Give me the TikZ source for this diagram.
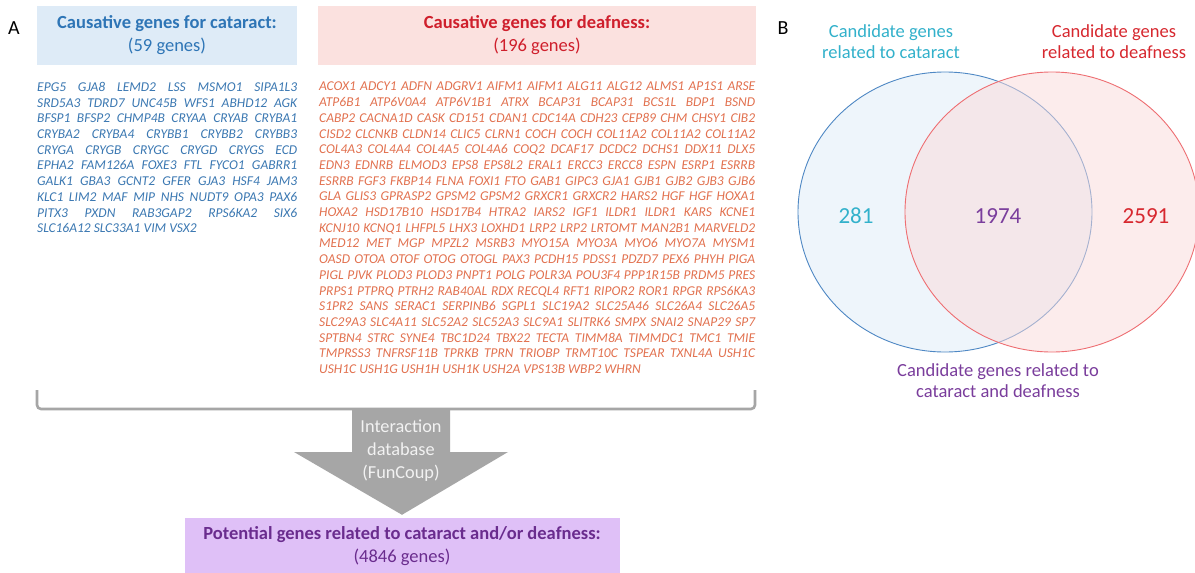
\documentclass[tikz,border=0pt]{standalone}
\usepackage{fontspec}
\setmainfont{Carlito}
\usetikzlibrary{shapes.geometric}

\definecolor{cathead}{HTML}{2E75B6}
\definecolor{catgene}{HTML}{3B78B2}
\definecolor{catfill}{HTML}{DEEBF7}
\definecolor{deafhead}{HTML}{CF1F2C}
\definecolor{deafgene}{HTML}{E2714F}
\definecolor{deaffill}{HTML}{FBE1DF}
\definecolor{boxgray}{HTML}{A6A6A6}
\definecolor{potfill}{HTML}{DFC0F7}
\definecolor{pottext}{HTML}{6A2C8E}
\definecolor{vcyan}{HTML}{32B1CB}
\definecolor{vred}{HTML}{D7282F}
\definecolor{vpurple}{HTML}{7A3D9C}
\definecolor{vblueedge}{HTML}{4F88C4}
\definecolor{vbluefill}{HTML}{EEF5FB}
\definecolor{vrededge}{HTML}{EE6E72}
\definecolor{vredfill}{HTML}{FBDADB}

\newcommand{\catline}[1]{\makebox[260pt][s]{#1}}
\newcommand{\deafline}[1]{\makebox[436pt][s]{#1}}

\begin{document}
\begin{tikzpicture}[x=1pt, y=-1pt,
    headbox/.style = {rectangle, inner sep=0pt, minimum height=59pt, align=center, font=\fontsize{18.5}{23}\selectfont},
    genes/.style = {inner sep=0pt, anchor=north west, align=left, font=\fontsize{13.5}{15.7}\selectfont\itshape},
    vennlabel/.style = {align=center, font=\fontsize{18.5}{21}\selectfont},
    vennnum/.style = {font=\fontsize{23}{27}\selectfont},
    panel/.style = {font=\fontsize{20}{24}\selectfont},
    set/.style = {ellipse, draw, line width=0.9pt, minimum width=294pt, minimum height=280pt, inner sep=0pt}
]
    \path [use as bounding box, fill=white] (0,0) rectangle (1195,573);

    % Panel A - headers
    \node [panel] (pa) at (14, 28) {A};
    \node [headbox, fill=catfill, minimum width=260pt] (cathead) at (167, 35) {\textcolor{cathead}{\textbf{Causative genes for cataract:}}\\\textcolor{cathead}{(59 genes)}};
    \node [headbox, fill=deaffill, minimum width=438pt] (deafhead) at (537, 35) {\textcolor{deafhead}{\textbf{Causative genes for deafness:}}\\\textcolor{deafhead}{(196 genes)}};

    % Gene lists
    \node [genes, text=catgene] (catlist) at (37, 82) {%
        \catline{EPG5 GJA8 LEMD2 LSS MSMO1 SIPA1L3}\\
        \catline{SRD5A3 TDRD7 UNC45B WFS1 ABHD12 AGK}\\
        \catline{BFSP1 BFSP2 CHMP4B CRYAA CRYAB CRYBA1}\\
        \catline{CRYBA2 CRYBA4 CRYBB1 CRYBB2 CRYBB3}\\
        \catline{CRYGA CRYGB CRYGC CRYGD CRYGS ECD}\\
        \catline{EPHA2 FAM126A FOXE3 FTL FYCO1 GABRR1}\\
        \catline{GALK1 GBA3 GCNT2 GFER GJA3 HSF4 JAM3}\\
        \catline{KLC1 LIM2 MAF MIP NHS NUDT9 OPA3 PAX6}\\
        \catline{PITX3 PXDN RAB3GAP2 RPS6KA2 SIX6}\\
        SLC16A12 SLC33A1 VIM VSX2};
    \node [genes, text=deafgene] (deaflist) at (319, 82) {%
        \deafline{ACOX1 ADCY1 ADFN ADGRV1 AIFM1 AIFM1 ALG11 ALG12 ALMS1 AP1S1 ARSE}\\
        \deafline{ATP6B1 ATP6V0A4 ATP6V1B1 ATRX BCAP31 BCAP31 BCS1L BDP1 BSND}\\
        \deafline{CABP2 CACNA1D CASK CD151 CDAN1 CDC14A CDH23 CEP89 CHM CHSY1 CIB2}\\
        \deafline{CISD2 CLCNKB CLDN14 CLIC5 CLRN1 COCH COCH COL11A2 COL11A2 COL11A2}\\
        \deafline{COL4A3 COL4A4 COL4A5 COL4A6 COQ2 DCAF17 DCDC2 DCHS1 DDX11 DLX5}\\
        \deafline{EDN3 EDNRB ELMOD3 EPS8 EPS8L2 ERAL1 ERCC3 ERCC8 ESPN ESRP1 ESRRB}\\
        \deafline{ESRRB FGF3 FKBP14 FLNA FOXI1 FTO GAB1 GIPC3 GJA1 GJB1 GJB2 GJB3 GJB6}\\
        \deafline{GLA GLIS3 GPRASP2 GPSM2 GPSM2 GRXCR1 GRXCR2 HARS2 HGF HGF HOXA1}\\
        \deafline{HOXA2 HSD17B10 HSD17B4 HTRA2 IARS2 IGF1 ILDR1 ILDR1 KARS KCNE1}\\
        \deafline{KCNJ10 KCNQ1 LHFPL5 LHX3 LOXHD1 LRP2 LRP2 LRTOMT MAN2B1 MARVELD2}\\
        \deafline{MED12 MET MGP MPZL2 MSRB3 MYO15A MYO3A MYO6 MYO7A MYSM1}\\
        \deafline{OASD OTOA OTOF OTOG OTOGL PAX3 PCDH15 PDSS1 PDZD7 PEX6 PHYH PIGA}\\
        \deafline{PIGL PJVK PLOD3 PLOD3 PNPT1 POLG POLR3A POU3F4 PPP1R15B PRDM5 PRES}\\
        \deafline{PRPS1 PTPRQ PTRH2 RAB40AL RDX RECQL4 RFT1 RIPOR2 ROR1 RPGR RPS6KA3}\\
        \deafline{S1PR2 SANS SERAC1 SERPINB6 SGPL1 SLC19A2 SLC25A46 SLC26A4 SLC26A5}\\
        \deafline{SLC29A3 SLC4A11 SLC52A2 SLC52A3 SLC9A1 SLITRK6 SMPX SNAI2 SNAP29 SP7}\\
        \deafline{SPTBN4 STRC SYNE4 TBC1D24 TBX22 TECTA TIMM8A TIMMDC1 TMC1 TMIE}\\
        \deafline{TMPRSS3 TNFRSF11B TPRKB TPRN TRIOBP TRMT10C TSPEAR TXNL4A USH1C}\\
        USH1C USH1G USH1H USH1K USH2A VPS13B WBP2 WHRN};

    % Result box
    \node [headbox, fill=potfill, text=pottext, minimum width=435pt, minimum height=56pt] (pot) at (402, 546) {\textbf{Potential genes related to cataract and/or deafness:}\\(4846 genes)};

    % Bracket and arrow
    \draw [boxgray, line width=2.6pt, rounded corners=4pt] (37, 390) -- (37, 409) -- (755, 409) -- (755, 390);
    \coordinate (tip) at ([yshift=3pt]pot.north);
    \fill [boxgray] (352, 409) -- (450, 409) -- (450, 452) -- (508, 452) -- (tip) -- (294, 452) -- (352, 452) -- cycle;
    \node [align=center, text=white!95!black, font=\fontsize{18.3}{23}\selectfont] (db) at (401, 451) {Interaction\\database\\(FunCoup)};

    % Panel B - Venn
    \node [panel] (pb) at (783, 28) {B};
    \node [set, draw=vblueedge, fill=vbluefill] (catset) at (945, 212) {};
    \node [set, draw=vrededge, fill=vredfill, fill opacity=0.5, draw opacity=1] (deafset) at (1052, 212) {};
    \node [vennlabel, text=vcyan] (catlab) at (891, 42) {Candidate genes\\related to cataract};
    \node [vennlabel, text=vred] (deaflab) at (1114, 42) {Candidate genes\\related to deafness};
    \node [vennnum, text=vcyan] (n1) at (856, 216) {281};
    \node [vennnum, text=vpurple] (n2) at (998, 216) {1974};
    \node [vennnum, text=vred] (n3) at (1146, 216) {2591};
    \node [vennlabel, text=vpurple] (bothlab) at (998, 381) {Candidate genes related to\\cataract and deafness};

\end{tikzpicture}
\end{document}
